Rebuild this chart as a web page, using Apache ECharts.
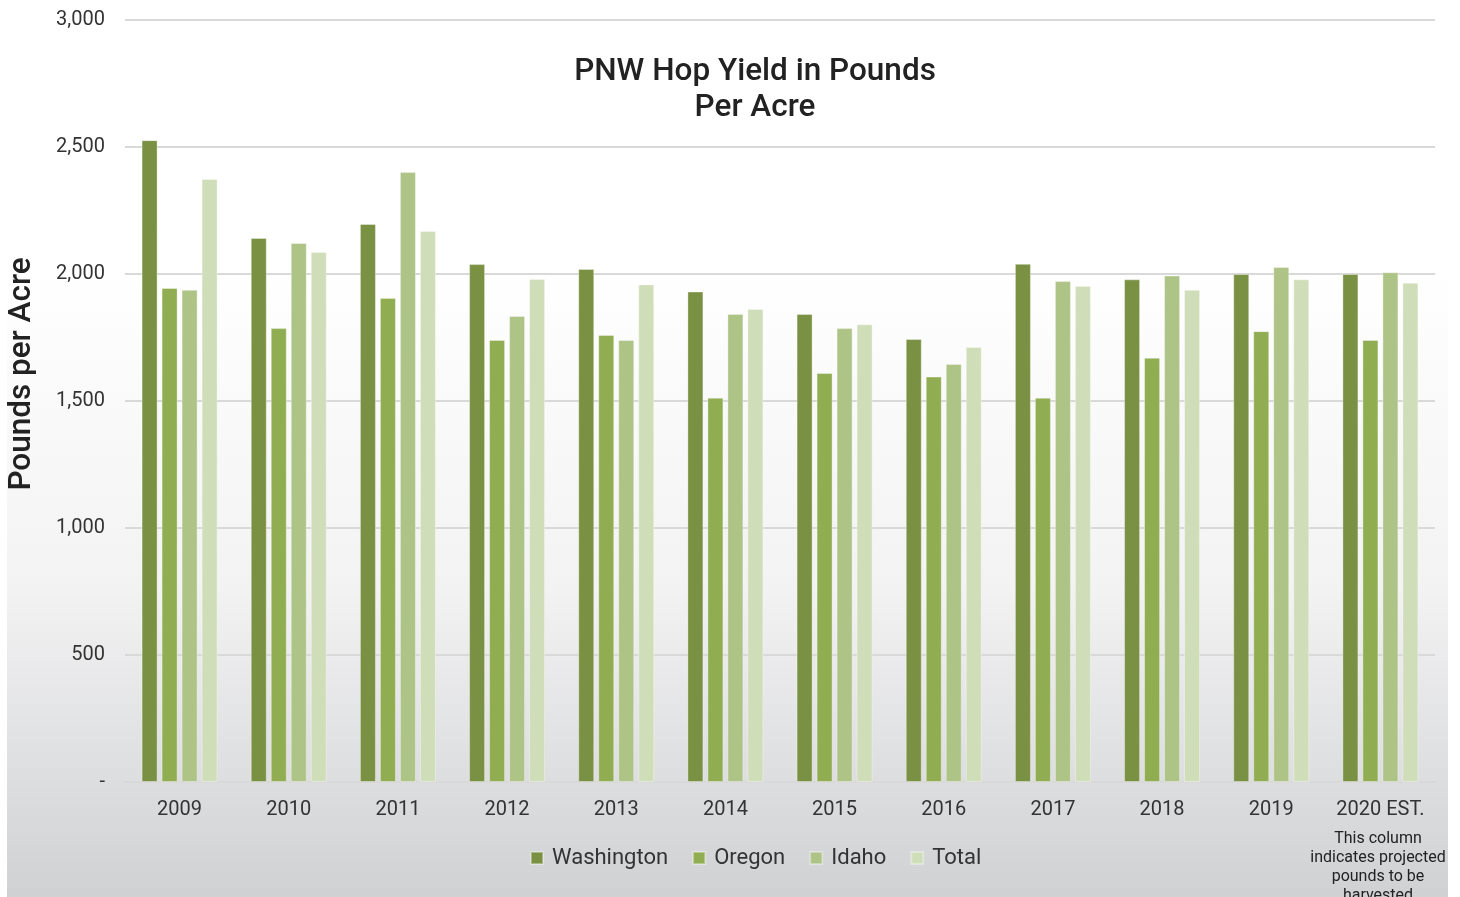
<!DOCTYPE html>
<html>
<head>
<meta charset="utf-8">
<script src="https://cdn.jsdelivr.net/npm/echarts@6/dist/echarts.min.js"></script>
<style>
html,body{margin:0;padding:0;background:#fff;}
#c{width:1460px;height:897px;}
</style>
</head>
<body>
<div id="c"></div>
<script>
const categories = ['2009','2010','2011','2012','2013','2014','2015','2016','2017','2018','2019','2020 EST.'];
const washington = [2527, 2142, 2197, 2039, 2020, 1931, 1843, 1744, 2040, 1979, 2000, 2000];
const oregon     = [1945, 1787, 1906, 1740, 1760, 1513, 1610, 1596, 1513, 1670, 1775, 1740];
const idaho      = [1938, 2122, 2402, 1835, 1740, 1843, 1787, 1646, 1972, 1994, 2028, 2007];
const total      = [2374, 2087, 2169, 1980, 1959, 1862, 1802, 1713, 1953, 1938, 1979, 1966];
const yTicks = [0, 500, 1000, 1500, 2000, 2500, 3000];
const seriesNames = ['Washington', 'Oregon', 'Idaho', 'Total'];
const colors = ['#7a9143', '#90ad52', '#adc486', '#d0ddb9'];

const chart = echarts.init(document.getElementById('c'));
const FONT = 'Roboto';
const mk = (name, data, i) => ({
  name, type: 'bar', data,
  barWidth: 16, barGap: '25%',
  itemStyle: { color: colors[i], borderColor: 'rgba(255,255,255,0.35)', borderWidth: 1 }
});
chart.setOption({
  animation: false,
  textStyle: { fontFamily: FONT },
  color: colors,
  graphic: [
    { type: 'rect', z: -10, silent: true, shape: { x: 7, y: 0, width: 1441, height: 897 },
      style: { fill: new echarts.graphic.LinearGradient(0, 0, 0, 1, [
        { offset: 0, color: '#ffffff' }, { offset: 0.3, color: '#ffffff' }, { offset: 0.65, color: '#f3f3f4' }, { offset: 1, color: '#d0d1d3' }]) } },
    { type: 'text', x: 755, y: 54, style: { text: 'PNW Hop Yield in Pounds\nPer Acre', font: '500 31.5px Roboto', fill: '#222', align: 'center', lineHeight: 36 } },
    { type: 'text', x: 22, y: 374, rotation: Math.PI / 2, style: { text: 'Pounds per Acre', font: '500 31.5px Roboto', fill: '#222', align: 'center', verticalAlign: 'middle' } },
    { type: 'text', x: 1378, y: 829, style: { text: 'This column\nindicates projected\npounds to be\nharvested', font: '16px Roboto', fill: '#222', align: 'center', lineHeight: 19 } }
  ],
  legend: {
    data: seriesNames, left: 525, top: 842, itemWidth: 12, itemHeight: 12, itemGap: 24, icon: 'rect',
    textStyle: { fontSize: 22, color: '#333', fontFamily: FONT, padding: [0, 0, 0, 4] }
  },
  grid: { left: 125, right: 25, top: 20, bottom: 115 },
  xAxis: {
    type: 'category', data: categories,
    axisLine: { show: true, lineStyle: { color: '#d9d9d9', width: 2 } },
    axisTick: { show: false },
    axisLabel: { interval: 0, fontSize: 20, color: '#333', margin: 18, fontFamily: FONT }
  },
  yAxis: {
    type: 'value', min: yTicks[0], max: yTicks[yTicks.length - 1], interval: 500,
    axisLine: { show: false }, axisTick: { show: false },
    splitLine: { lineStyle: { color: '#d9d9d9', width: 2 } },
    axisLabel: { fontSize: 20, color: '#333', margin: 20, fontFamily: FONT,
      formatter: v => v === 0 ? '-' : v.toLocaleString('en-US') }
  },
  series: [mk('Washington', washington, 0), mk('Oregon', oregon, 1), mk('Idaho', idaho, 2), mk('Total', total, 3)]
});
</script>
</body>
</html>
